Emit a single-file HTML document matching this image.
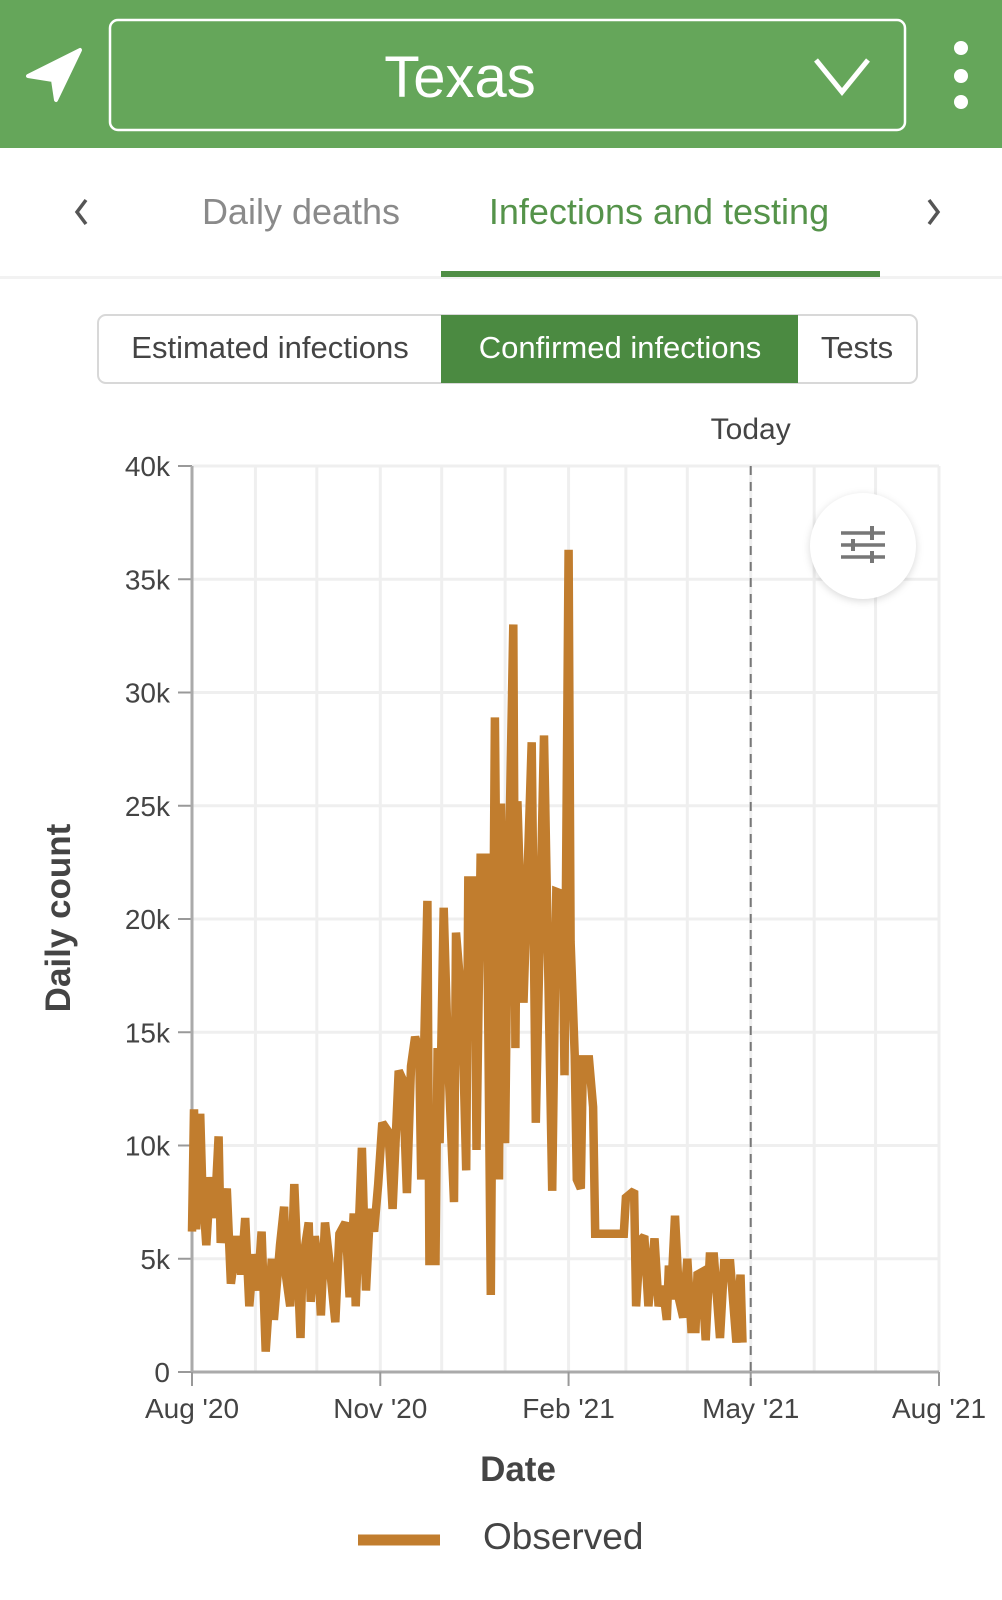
<!DOCTYPE html>
<html><head><meta charset="utf-8"><style>
html,body{margin:0;padding:0;background:#fff;}
svg{display:block;font-family:"Liberation Sans",sans-serif;}
</style></head><body>
<svg id="root" width="1002" height="1600" viewBox="0 0 1002 1600">
  <rect x="0" y="0" width="1002" height="148" fill="#65a65a"/>
  <path d="M28,76 L80,50 L56,100 L53,80 Z" fill="#fff" stroke="#fff" stroke-width="4" stroke-linejoin="round"/>
  <rect x="110" y="20" width="795" height="110" rx="8" fill="none" stroke="#fff" stroke-width="2.5"/>
  <text x="460" y="97" text-anchor="middle" font-size="58" fill="#fff">Texas</text>
  <path d="M816,60 L842,92 L868,60" fill="none" stroke="#fff" stroke-width="5"/>
  <g fill="#fff"><circle cx="961" cy="48" r="7"/><circle cx="961" cy="76" r="7"/><circle cx="961" cy="102" r="7"/></g>
  <rect x="0" y="276" width="1002" height="3" fill="#f2f2f2"/>
  <path d="M86,200 L77,212 L86,224" fill="none" stroke="#555" stroke-width="3.5"/>
  <path d="M929,200 L938,212 L929,224" fill="none" stroke="#555" stroke-width="3.5"/>
  <text x="301" y="224" text-anchor="middle" font-size="36" fill="#8a8a8a">Daily deaths</text>
  <text x="659" y="224" text-anchor="middle" font-size="36" fill="#55934a">Infections and testing</text>
  <rect x="441" y="271" width="439" height="6" fill="#4f8e45"/>
  <rect x="98" y="315" width="819" height="68" rx="8" fill="#fff" stroke="#d8d8d8" stroke-width="2"/>
  <rect x="441" y="315" width="357" height="68" fill="#4b8a41"/>
  <text x="270" y="358" text-anchor="middle" font-size="31" fill="#444">Estimated infections</text>
  <text x="620" y="358" text-anchor="middle" font-size="31" fill="#fff">Confirmed infections</text>
  <text x="857" y="358" text-anchor="middle" font-size="31" fill="#444">Tests</text>
  <g id="chart"></g>
  <g>
    <circle cx="863" cy="546" r="53" fill="#fff" style="filter:drop-shadow(0 2px 4px rgba(0,0,0,0.15))"/>
    <g stroke="#777" stroke-width="3.5"><line x1="841" y1="533" x2="885" y2="533"/><line x1="841" y1="545" x2="885" y2="545"/><line x1="841" y1="557" x2="885" y2="557"/></g>
    <g stroke="#777" stroke-width="4"><line x1="872" y1="526" x2="872" y2="540"/><line x1="853" y1="539" x2="853" y2="551"/><line x1="872" y1="551" x2="872" y2="563"/></g>
  </g>
  <text x="518" y="1481" text-anchor="middle" font-size="35" font-weight="bold" fill="#444">Date</text>
  <text transform="translate(70,918) rotate(-90)" text-anchor="middle" font-size="35" font-weight="bold" fill="#444">Daily count</text>
  <line x1="358" y1="1540" x2="440" y2="1540" stroke="#c17d2e" stroke-width="11"/>
  <text x="483" y="1549" font-size="37" fill="#444">Observed</text>
</svg>
<script>
const dayOffsets = [0,1,2,4,5,7,9,11,13,14,17,19,22,24,26,28,30,32,34,36,39,40,43,45,46,48,50,53,54,57,58,60,62,63,65,67,70,72,75,77,79,80,83,85,87,89,91,93,96,98,101,103,105,107,109,111,112,115,116,119,120,121,123,125,128,129,132,134,135,138,139,141,144,146,148,150,151,153,154,157,158,159,162,166,168,172,176,178,181,182,184,185,187,188,190,191,194,196,197,211,212,216,217,219,221,223,226,228,230,232,233,234,236,238,240,242,244,246,247,249,251,253,255,258,260,263,266,268,269];
const dailyCounts = [6.2,11.6,6.3,11.4,8.3,5.6,8.6,6.8,10.4,5.7,8.1,3.9,6.0,4.3,6.8,2.9,5.2,3.6,6.2,0.9,5.0,2.3,5.6,7.3,4.2,2.9,8.3,1.5,4.8,6.6,3.1,6.0,4.2,2.5,6.6,5.0,2.2,6.1,6.6,3.3,7.0,2.9,9.9,3.6,7.2,6.2,8.3,11.0,10.6,7.2,13.3,12.9,7.9,13.5,14.8,14.2,8.5,20.8,4.9,4.9,14.3,10.1,20.5,14.2,7.5,19.4,16.1,8.9,21.7,21.7,9.8,22.7,22.7,3.4,28.9,8.5,25.1,10.1,18.2,33.0,14.3,25.2,16.3,27.8,11.0,28.1,8.0,21.2,21.1,13.1,36.3,19.0,14.0,8.5,8.1,13.8,13.8,11.7,6.1,6.1,7.7,8.0,2.9,5.8,6.0,2.9,5.9,2.9,3.8,2.3,4.7,3.2,6.9,3.2,2.4,5.0,1.9,1.9,4.3,4.4,1.4,5.1,5.1,1.5,4.8,4.8,1.3,4.3,1.3].map(v => v * 1000);
const yTicks = [0,5000,10000,15000,20000,25000,30000,35000,40000];
const yTickLabels = ["0","5k","10k","15k","20k","25k","30k","35k","40k"];
const xTickDays = [0,92,184,273,365];
const xTickLabels = ["Aug '20","Nov '20","Feb '21","May '21","Aug '21"];
const monthGridDays = [31,61,122,153,212,242,304,334];
const todayDay = 273;

const NS = "http://www.w3.org/2000/svg";
const X0 = 192, X1 = 939, Y0 = 1372, Y1 = 466;
const xScale = d => X0 + (X1 - X0) * d / 365;
const yScale = v => Y0 - (Y0 - Y1) * v / 40000;
const chart = document.getElementById('chart');
function mk(tag, attrs, parent) {
  const e = document.createElementNS(NS, tag);
  for (const k in attrs) e.setAttribute(k, attrs[k]);
  (parent || chart).appendChild(e);
  return e;
}
monthGridDays.concat(xTickDays.slice(1)).forEach(d => {
  const l = mk('line', {x1: xScale(d), x2: xScale(d), y1: Y1, y2: Y0, stroke: '#efefef', 'stroke-width': 3});
  
  
});
yTicks.forEach((v, i) => {
  const y = yScale(v);
  if (v > 0) {
    const g = mk('line', {x1: X0, x2: X1, y1: y, y2: y, stroke: '#efefef', 'stroke-width': 3});
    
    
  }
  const t = mk('line', {x1: X0 - 14, x2: X0, y1: y, y2: y, stroke: '#999', 'stroke-width': 2});
  
  
  const tx = mk('text', {x: X0 - 22, y: y + 10, 'text-anchor': 'end', 'font-size': 28, fill: '#444'});
  tx.textContent = yTickLabels[i];
  
  
});
const ya = mk('line', {x1: X0, x2: X0, y1: Y1, y2: Y0, stroke: '#aaa', 'stroke-width': 3});


const xa = mk('line', {x1: X0, x2: X1, y1: Y0, y2: Y0, stroke: '#aaa', 'stroke-width': 3});


xTickDays.forEach((d, i) => {
  const x = xScale(d);
  const t = mk('line', {x1: x, x2: x, y1: Y0, y2: Y0 + 14, stroke: '#999', 'stroke-width': 2});
  
  
  const tx = mk('text', {x: x, y: Y0 + 46, 'text-anchor': 'middle', 'font-size': 28, fill: '#444'});
  tx.textContent = xTickLabels[i];
  
  
});
const pts = dayOffsets.map((d, i) => xScale(d).toFixed(1) + ',' + yScale(dailyCounts[i]).toFixed(1)).join(' ');
const line = mk('polyline', {points: pts, fill: 'none', stroke: '#c17d2e', 'stroke-width': 8.5, 'stroke-linejoin': 'miter', 'stroke-miterlimit': 2});


const tdx = xScale(todayDay);
const tl = mk('line', {x1: tdx, x2: tdx, y1: Y1, y2: Y0 + 14, stroke: '#777', 'stroke-width': 2, 'stroke-dasharray': '9,7'});


const tt = mk('text', {x: tdx, y: 439, 'text-anchor': 'middle', 'font-size': 30, fill: '#444'});
tt.textContent = 'Today';


</script>
</body></html>
